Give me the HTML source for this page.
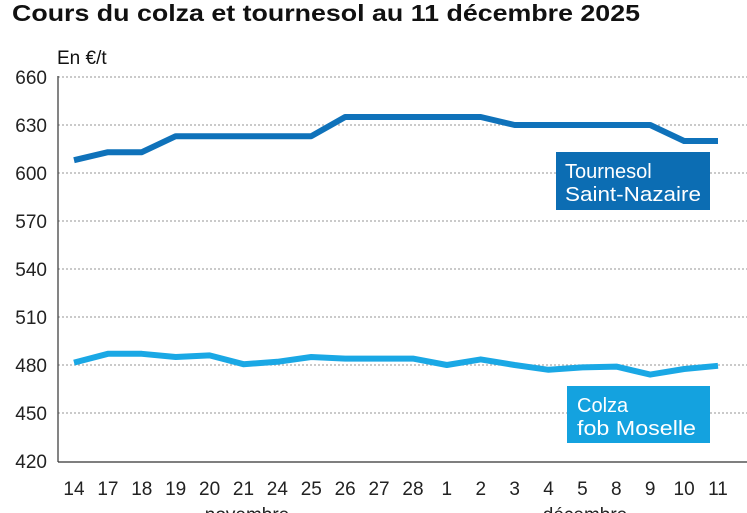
<!DOCTYPE html>
<html><head><meta charset="utf-8"><style>
html,body{margin:0;padding:0;background:#fff;}
svg{display:block;font-family:"Liberation Sans",sans-serif;}
</style></head><body>
<svg id="chart" width="747" height="513" viewBox="0 0 747 513">
<text x="12" y="21" font-size="23" font-weight="bold" fill="#111" textLength="628" lengthAdjust="spacingAndGlyphs">Cours du colza et tournesol au 11 décembre 2025</text>
<text x="57" y="64" font-size="19" fill="#111">En €/t</text>
<g id="grid"></g>
<g id="lines"></g>
<g id="xlabels"></g>
<line x1="58" y1="76" x2="58" y2="462" stroke="#333" stroke-width="1.2"/>
<line x1="58" y1="462" x2="747" y2="462" stroke="#333" stroke-width="1.2"/>
<g>
<rect x="556" y="152" width="154" height="58" fill="#0c6db3"/>
<text x="565" y="178" font-size="20" fill="#fff">Tournesol</text>
<text x="565" y="201" font-size="20" fill="#fff" textLength="136" lengthAdjust="spacingAndGlyphs">Saint-Nazaire</text>
</g>
<g>
<rect x="567" y="386" width="143" height="57" fill="#14a2df"/>
<text x="577" y="412" font-size="20" fill="#fff">Colza</text>
<text x="577" y="435" font-size="20" fill="#fff" textLength="119" lengthAdjust="spacingAndGlyphs">fob Moselle</text>
</g>
<text x="247" y="521" font-size="19" fill="#222" text-anchor="middle">novembre</text>
<text x="585" y="521" font-size="19" fill="#222" text-anchor="middle">décembre</text>
</svg>
<script>
const categories = ["14","17","18","19","20","21","24","25","26","27","28","1","2","3","4","5","8","9","10","11"];
const tournesol = [608,613,613,623,623,623,623,623,635,635,635,635,635,630,630,630,630,630,620,620];
const colza = [481.5,487,487,485,486,480.5,482,485,484,484,484,480,483.5,480,477,478.5,479,474,477.5,479.5];
const yTicks = [420,450,480,510,540,570,600,630,660];
const NS = "http://www.w3.org/2000/svg";
function xPos(i){ return 74 + i*(718-74)/(categories.length-1); }
function yPos(v){ return 461 - (v-420)*1.6; }
const grid = document.getElementById('grid');
yTicks.forEach(t=>{
  const y = yPos(t);
  if(t>420){
    const l = document.createElementNS(NS,'line');
    
    
    l.setAttribute('x1',58); l.setAttribute('x2',747);
    l.setAttribute('y1',y); l.setAttribute('y2',y);
    l.setAttribute('stroke','#aaa'); l.setAttribute('stroke-width','1.3');
    l.setAttribute('stroke-dasharray','2,2');
    grid.appendChild(l);
  }
  const tx = document.createElementNS(NS,'text');
  
  
  tx.setAttribute('x',47); tx.setAttribute('y',y+7);
  tx.setAttribute('text-anchor','end'); tx.setAttribute('font-size','19'); tx.setAttribute('fill','#222');
  tx.textContent = t;
  grid.appendChild(tx);
});
const xl = document.getElementById('xlabels');
categories.forEach((c,i)=>{
  const tx = document.createElementNS(NS,'text');
  
  
  tx.setAttribute('x',xPos(i)); tx.setAttribute('y',495);
  tx.setAttribute('text-anchor','middle'); tx.setAttribute('font-size','19'); tx.setAttribute('fill','#222');
  tx.textContent = c;
  xl.appendChild(tx);
});
const lines = document.getElementById('lines');
function addLine(data,color,name){
  const p = document.createElementNS(NS,'path');
  
  
  p.setAttribute('d', data.map((v,i)=>(i?'L':'M')+xPos(i)+','+yPos(v)).join(' '));
  p.setAttribute('fill','none'); p.setAttribute('stroke',color);
  p.setAttribute('stroke-width','6'); p.setAttribute('stroke-linejoin','round');
  lines.appendChild(p);
}
addLine(tournesol,'#0f72ba','tournesol-line');
addLine(colza,'#1aa8e5','colza-line');
</script>
</body></html>
